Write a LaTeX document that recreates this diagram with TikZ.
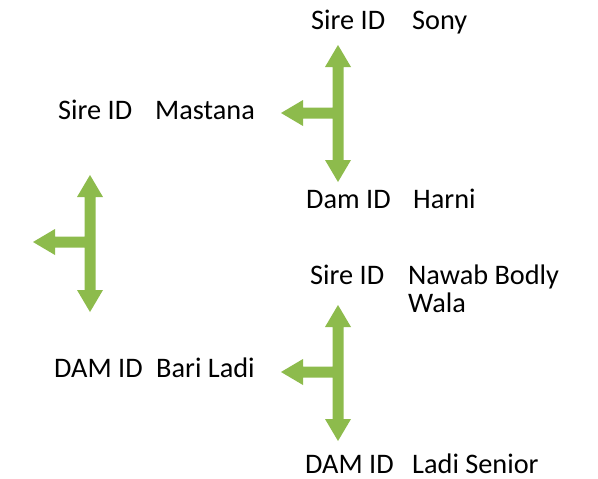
\documentclass[tikz,border=0pt]{standalone}
\usepackage{fontspec}
\setmainfont{Carlito}
\definecolor{arrowgreen}{HTML}{8DBB4C}
\newcommand{\teearrow}[5]{% cx, top tip y, arm y, bottom tip y, left tip x
  \fill[arrowgreen] (#1,#2) -- ++(13,22) -- ++(-7.5,0) -- (#1+5.5,#4-22) -- ++(7.5,0) -- (#1,#4)
    -- (#1-13,#4-22) -- ++(7.5,0) -- (#1-5.5,#3+5.5) -- (#5+22,#3+5.5) -- ++(0,7.5) -- (#5,#3)
    -- (#5+22,#3-13) -- ++(0,7.5) -- (#1-5.5,#3-5.5) -- (#1-5.5,#2+22) -- ++(-7.5,0) -- cycle;}
\begin{document}
\begin{tikzpicture}[x=1pt,y=-1pt,
  lbl/.style={anchor=base west,inner sep=0pt,font=\fontsize{28.3}{32}\selectfont,text=black}]
\useasboundingbox (0,0) rectangle (598,479);
\teearrow{338}{45}{113}{182}{281}
\teearrow{90}{175}{242}{312}{33}
\teearrow{338}{305}{372}{441}{281}
\node[lbl] (s1) at (311,30) {Sire ID};
\node[lbl] (n1) at (412,30) {Sony};
\node[lbl] (s2) at (58,119) {Sire ID};
\node[lbl] (n2) at (155,119) {Mastana};
\node[lbl] (d1) at (306,208) {Dam ID};
\node[lbl] (n3) at (413,208) {Harni};
\node[lbl] (s3) at (310,284) {Sire ID};
\node[lbl] (n4) at (408,284) {Nawab Bodly};
\node[lbl] (n4b) at (408,312) {Wala};
\node[lbl] (d2) at (54,377) {DAM ID};
\node[lbl] (n5) at (156,377) {Bari Ladi};
\node[lbl] (d3) at (305,473) {DAM ID};
\node[lbl] (n6) at (412,473) {Ladi Senior};
\end{tikzpicture}
\end{document}
